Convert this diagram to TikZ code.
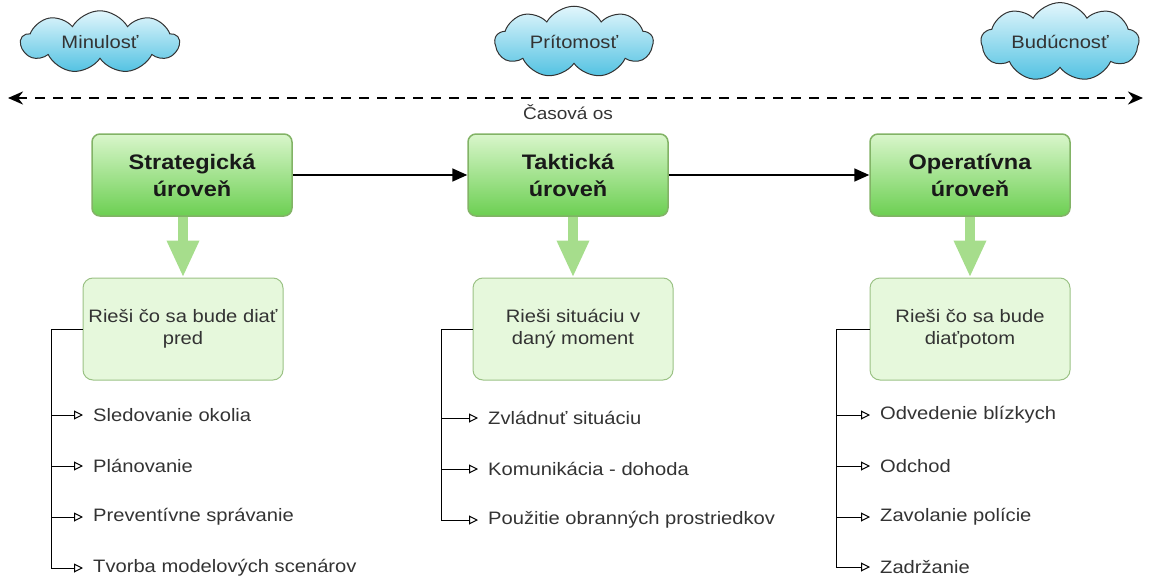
\documentclass[tikz,border=0pt]{standalone}
\usepackage{fontspec}
\setmainfont[FakeStretch=1.12]{Liberation Sans}
\usepackage{tikz}
\usetikzlibrary{arrows.meta}
\usetikzlibrary{calc}
\usetikzlibrary{positioning}
\usetikzlibrary{shapes.symbols}

\definecolor{cloudtop}{HTML}{E2F6FC}
\definecolor{cloudbot}{HTML}{52C2E2}
\definecolor{leveltop}{HTML}{D9F6CB}
\definecolor{levelbot}{HTML}{6CCF52}
\definecolor{levelline}{HTML}{82B366}
\definecolor{taskfill}{HTML}{E6F8DC}
\definecolor{fatgreen}{HTML}{A6DD8C}
\definecolor{itemgray}{HTML}{333333}

\begin{document}
\begin{tikzpicture}[
  x=1pt, y=-1pt,
  normal/.style = {font=\fontsize{18}{22}\selectfont},
  time cloud/.style = {cloud, cloud puffs=9, cloud puff arc=120, aspect=2.5,
    draw=black!80, line width=1pt, top color=cloudtop, bottom color=cloudbot,
    minimum width=158pt, minimum height=56pt, inner sep=0pt, normal, text=itemgray},
  level/.style = {draw=levelline, line width=1.5pt, rounded corners=8pt,
    top color=leveltop, bottom color=levelbot, minimum width=200pt, minimum height=82pt,
    align=center, font=\fontsize{21}{27}\selectfont\bfseries, text=black!90},
  task/.style = {draw=levelline!80, line width=1pt, rounded corners=10pt, fill=taskfill,
    minimum width=200pt, minimum height=102pt, align=center, normal, text=itemgray},
  item/.style = {anchor=west, inner xsep=10pt, inner ysep=2pt, normal, text=itemgray},
  time axis/.style = {line width=2.5pt, dash pattern=on 10pt off 8pt,
    {Stealth[length=15pt,width=13pt]}-{Stealth[length=15pt,width=13pt]}},
  next/.style = {line width=1.8pt, -{Triangle[length=15pt,width=13pt]}},
  fat/.style = {line width=10pt, draw=fatgreen, -{Triangle[length=37pt,width=30pt]}},
  list arrow/.style = {line width=1pt, -{Triangle[open,length=9pt,width=9pt]}}
  ]
  \useasboundingbox (0,0) rectangle (1149,578);

  % casova os
  \node[time cloud] (past) at (100,42) {Minulosť};
  \node[time cloud] (now) at (574,42) {Prítomosť};
  \node[time cloud] (future) at (1060,42) {Budúcnosť};

  \coordinate (os left) at (8,98);
  \coordinate (os right) at (1143,98);
  \draw[time axis] (os left) -- (os right);
  \node[font=\fontsize{17}{20}\selectfont, text=itemgray] (os) at (568,112) {Časová os};

  % urovne
  \node[level] (strat) at (192,175) {Strategická\\úroveň};
  \node[level] (takt) at (568,175) {Taktická\\úroveň};
  \node[level] (oper) at (970,175) {Operatívna\\úroveň};

  \draw[next] (strat) -- (takt);
  \draw[next] (takt) -- (oper);

  \node[task] (task1) at (183,329) {Rieši čo sa bude diať\\pred};
  \node[task] (task2) at (573,329) {Rieši situáciu v\\daný moment};
  \node[task] (task3) at (970,329) {Rieši čo sa bude\\diaťpotom};

  \draw[fat] (task1.north |- strat.south) -- (task1.north);
  \draw[fat] (task2.north |- takt.south) -- (task2.north);
  \draw[fat] (task3.north |- oper.south) -- (task3.north);

  % polozky
  \node[item] (s1) at (83,415) {Sledovanie okolia};
  \node[item] (s2) at (83,466) {Plánovanie};
  \node[item] (s3) at (83,517) {Preventívne správanie};
  \node[item] (s4) at (83,568) {Tvorba modelových scenárov};

  \node[item] (t1) at (478,418) {Zvládnuť situáciu};
  \node[item] (t2) at (478,469) {Komunikácia - dohoda};
  \node[item] (t3) at (478,520) {Použitie obranných prostriedkov};

  \node[item] (o1) at (870,415) {Odvedenie blízkych};
  \node[item] (o2) at (870,466) {Odchod};
  \node[item] (o3) at (870,517) {Zavolanie polície};
  \node[item] (o4) at (870,567) {Zadržanie};

  \draw[list arrow] (task1.west) -- ++(-31,0) |- (s1.west);
  \draw[list arrow] (task1.west) -- ++(-31,0) |- (s2.west);
  \draw[list arrow] (task1.west) -- ++(-31,0) |- (s3.west);
  \draw[list arrow] (task1.west) -- ++(-31,0) |- (s4.west);

  \draw[list arrow] (task2.west) -- ++(-31,0) |- (t1.west);
  \draw[list arrow] (task2.west) -- ++(-31,0) |- (t2.west);
  \draw[list arrow] (task2.west) -- ++(-31,0) |- (t3.west);

  \draw[list arrow] (task3.west) -- ++(-33,0) |- (o1.west);
  \draw[list arrow] (task3.west) -- ++(-33,0) |- (o2.west);
  \draw[list arrow] (task3.west) -- ++(-33,0) |- (o3.west);
  \draw[list arrow] (task3.west) -- ++(-33,0) |- (o4.west);

\end{tikzpicture}
\end{document}
